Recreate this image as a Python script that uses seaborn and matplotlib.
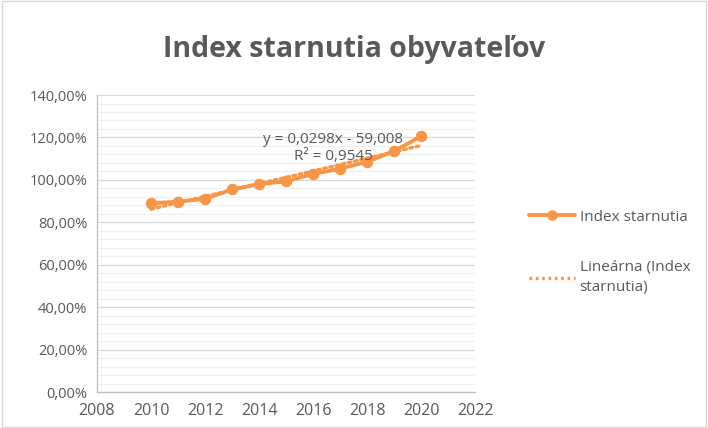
import numpy as np
import pandas as pd
import seaborn as sns
import matplotlib
import matplotlib.pyplot as plt
from matplotlib.ticker import MultipleLocator, FuncFormatter
from matplotlib.patches import Rectangle
matplotlib.use('Agg')

# dados
roky = [2010, 2011, 2012, 2013, 2014, 2015, 2016, 2017, 2018, 2019, 2020]
index_starnutia = [0.890, 0.897, 0.911, 0.955, 0.980, 0.993, 1.028, 1.053, 1.085, 1.136, 1.205]
nazov = 'Index starnutia obyvateľov'
rovnica = 'y = 0,0298x - 59,008\nR² = 0,9545'

sns.set_style('white')
plt.rcParams['font.family'] = ['Open Sans', 'DejaVu Sans']

oranzova = '#F79646'
seda = '#595959'

df = pd.DataFrame({'rok': roky, 'index': index_starnutia})

fig = plt.figure(figsize=(7.08, 4.28), dpi=100)
ax = fig.add_axes([0.137, 0.084, 0.534, 0.694])

# mriežka
ax.set_ylim(0, 1.4)
ax.set_xlim(2008, 2022)
ax.yaxis.set_major_locator(MultipleLocator(0.2))
ax.yaxis.set_minor_locator(MultipleLocator(0.04))
ax.xaxis.set_major_locator(MultipleLocator(2))
ax.grid(axis='y', which='major', color='#D9D9D9', lw=0.9)
ax.grid(axis='y', which='minor', color='#F0F0F0', lw=0.9)
ax.grid(axis='x', visible=False)
ax.set_axisbelow(True)

# trendová čiara
sns.regplot(data=df, x='rok', y='index', scatter=False, ci=None, ax=ax,
            line_kws=dict(color=oranzova, lw=2.4, linestyle=(0, (0.8, 1.1)),
                          dash_capstyle='round'))
# údaje
sns.lineplot(data=df, x='rok', y='index', ax=ax, color=oranzova, lw=2.8,
             marker='o', markersize=7.5, markeredgecolor=oranzova)

ax.text(2016.75, 1.15, rovnica, ha='center', va='center', fontsize=11,
        color=seda, linespacing=1.2)

ax.yaxis.set_major_formatter(FuncFormatter(lambda v, p: f'{v * 100:.2f}%'.replace('.', ',')))
ax.set_xlabel('')
ax.set_ylabel('')
for s in ['top', 'right']:
    ax.spines[s].set_visible(False)
for s in ['left', 'bottom']:
    ax.spines[s].set_color('#BFBFBF')
    ax.spines[s].set_linewidth(0.9)
ax.tick_params(axis='both', which='major', length=4, width=0.9, color='#BFBFBF',
               labelsize=10.5, labelcolor=seda, pad=3)
ax.tick_params(axis='y', which='minor', length=0)
ax.tick_params(axis='x', labelsize=11.5, pad=4)

fig.text(0.5, 0.885, nazov, ha='center', va='center', fontsize=20.5,
         fontweight='bold', color=seda)

h1 = plt.Line2D([], [], color=oranzova, lw=2.8, marker='o', markersize=6.5)
h2 = plt.Line2D([], [], color=oranzova, lw=2.4, linestyle=(0, (0.8, 1.1)))
leg = fig.legend([h1, h2], ['Index starnutia', 'Lineárna (Index\nstarnutia)'],
                 loc='center left', bbox_to_anchor=(0.728, 0.41), frameon=False,
                 fontsize=11, labelcolor=seda, handlelength=3.0, handletextpad=0.3,
                 labelspacing=2.3)
for t in leg.get_texts():
    t.set_linespacing(1.5)

# okraj grafu
fig.patches.append(Rectangle((0.003, 0.003), 0.994, 0.994, transform=fig.transFigure,
                             fill=False, edgecolor='#D9D9D9', lw=1))

fig.savefig('out.png', dpi=100)
plt.close()
